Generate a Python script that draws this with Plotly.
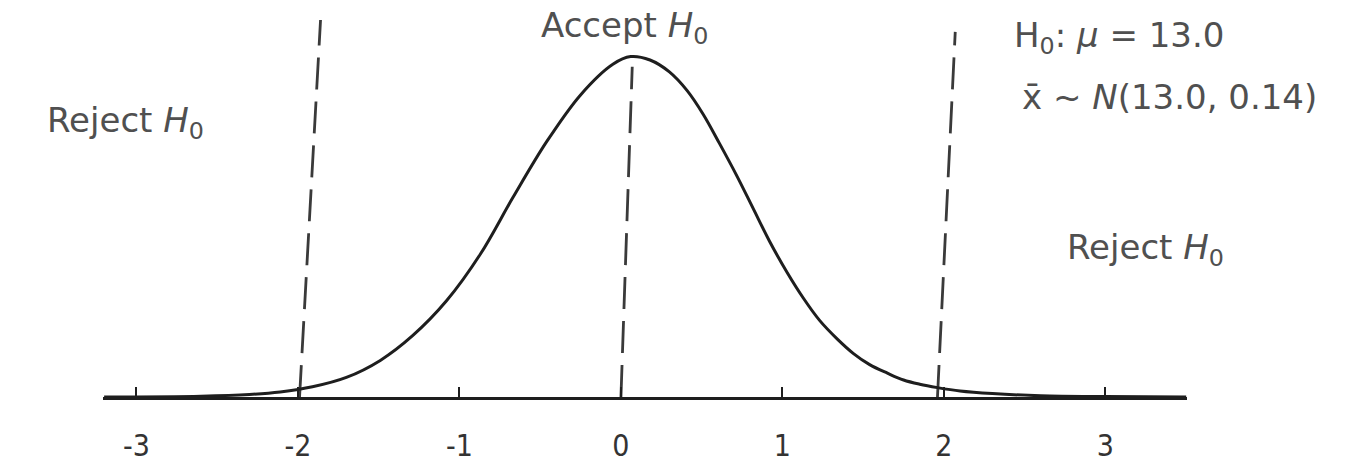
import plotly.graph_objects as go

# Sketched normal curve (z on x, density on y)
curve_z = [-3.2, -2.6, -2.3, -2.11, -1.91, -1.70, -1.49, -1.29, -1.08, -0.87,
           -0.67, -0.46, -0.25, -0.05, 0.06, 0.18, 0.30, 0.41, 0.51, 0.61,
           0.72, 0.82, 0.92, 1.03, 1.13, 1.23, 1.34, 1.44, 1.54, 1.65,
           1.75, 1.85, 1.96, 2.1, 2.3, 2.6, 3.0, 3.5]
curve_density = [0.0, 0.001, 0.003, 0.006, 0.012, 0.023, 0.043, 0.072, 0.113, 0.168,
                 0.234, 0.300, 0.355, 0.391, 0.400, 0.396, 0.382, 0.360, 0.332, 0.298,
                 0.259, 0.221, 0.183, 0.146, 0.116, 0.090, 0.068, 0.051, 0.038, 0.028,
                 0.020, 0.015, 0.011, 0.007, 0.004, 0.0015, 0.0005, 0.0]

# Dashed boundaries: critical values and the centre line (bottom -> top, as drawn)
boundary_bottom_z = [-1.99, 0.0, 1.96]
boundary_top_z = [-1.86, 0.07, 2.07]
boundary_top_y = [0.443, 0.388, 0.429]

tick_values = [-3, -2, -1, 0, 1, 2, 3]
tick_labels = ["-3", "-2", "-1", "0", "1", "2", "3"]

INK = "#1e1e1e"
PENCIL = "#505050"
HAND = "DejaVu Sans, Verdana, sans-serif"

fig = go.Figure()

for zb, zt, yt in zip(boundary_bottom_z, boundary_top_z, boundary_top_y):
    fig.add_trace(go.Scatter(
        x=[zb, zt], y=[0, yt], mode="lines",
        line=dict(color="#3a3a3a", width=2.8, dash="32px,12px"),
        hoverinfo="skip", showlegend=False,
    ))

fig.add_trace(go.Scatter(
    x=curve_z, y=curve_density, mode="lines",
    line=dict(color=INK, width=3, shape="spline", smoothing=1.0),
    showlegend=False,
))

text_font = dict(family=HAND, size=34, color=PENCIL)
notes = [
    dict(x=-3.07, y=0.323, text="Reject <i>H</i><sub>0</sub>", xanchor="center"),
    dict(x=0.02, y=0.434, text="Accept <i>H</i><sub>0</sub>", xanchor="center"),
    dict(x=2.42, y=0.423, text="H<sub>0</sub>: <i>μ</i> = 13.0", xanchor="left"),
    dict(x=2.47, y=0.3525, text="x\u0304 ~ <i>N</i>(13.0, 0.14)", xanchor="left"),
    dict(x=3.245, y=0.173, text="Reject <i>H</i><sub>0</sub>", xanchor="center"),
]
for n in notes:
    fig.add_annotation(
        x=n["x"], y=n["y"], xref="x", yref="y", text=n["text"],
        xanchor=n["xanchor"], yanchor="middle", showarrow=False, font=text_font,
    )

fig.update_layout(
    width=1361, height=464,
    margin=dict(l=0, r=0, t=0, b=67),
    paper_bgcolor="white", plot_bgcolor="white",
    xaxis=dict(
        domain=[103 / 1361, 1187 / 1361],
        range=[-3.207, 3.505],
        showgrid=False, zeroline=False,
        showline=True, linecolor=INK, linewidth=3,
        ticks="inside", ticklen=10, tickwidth=2, tickcolor=INK,
        tickvals=tick_values, ticktext=tick_labels,
        tickfont=dict(family="Liberation Sans Narrow, DejaVu Sans Condensed, Arial Narrow, sans-serif",
                      size=30, color="#333333"),
        ticklabelstandoff=20,
        fixedrange=True,
    ),
    yaxis=dict(
        range=[0, 0.4665], visible=False, showgrid=False, zeroline=False,
        fixedrange=True,
    ),
)

fig.write_html("out.html")
